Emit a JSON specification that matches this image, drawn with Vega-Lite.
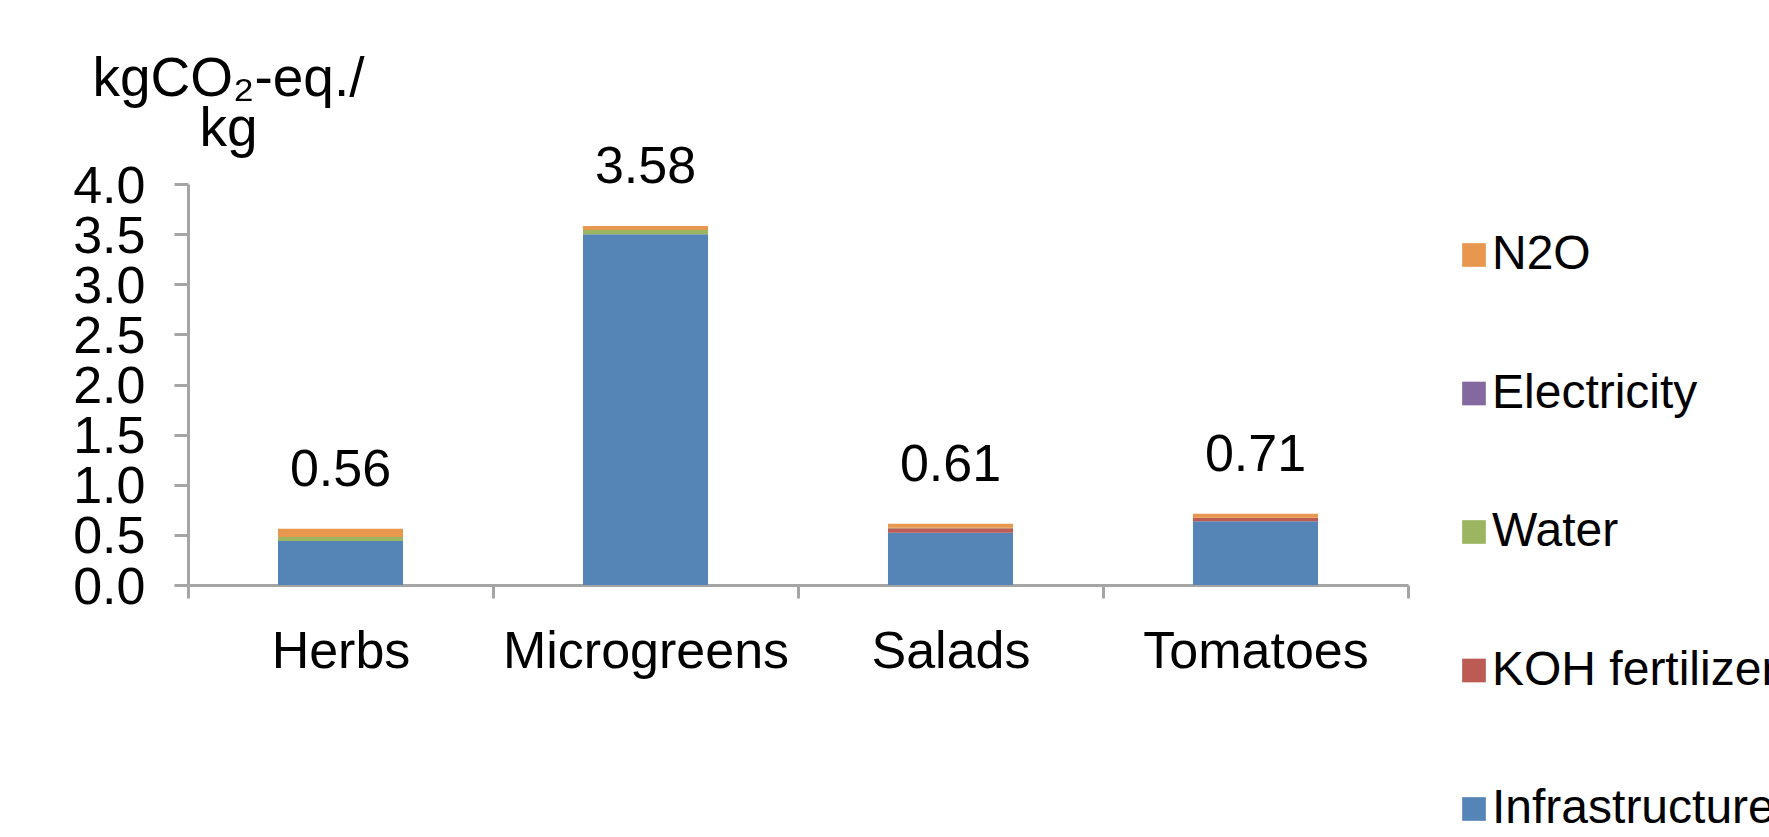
{
  "$schema": "https://vega.github.io/schema/vega-lite/v6.json",
  "autosize": "none",
  "width": 1220,
  "height": 401,
  "padding": {"left": 188, "top": 184, "right": 361, "bottom": 252},
  "background": "white",
  "config": {
    "view": {"stroke": null},
    "font": "Liberation Sans"
  },
  "datasets": {
    "parts": [
      {"crop": "Herbs", "component": "Infrastructure", "value": 0.44},
      {"crop": "Herbs", "component": "KOH fertilizer", "value": 0.0},
      {"crop": "Herbs", "component": "Water", "value": 0.04},
      {"crop": "Herbs", "component": "Electricity", "value": 0.0},
      {"crop": "Herbs", "component": "N2O", "value": 0.08},
      {"crop": "Microgreens", "component": "Infrastructure", "value": 3.50},
      {"crop": "Microgreens", "component": "KOH fertilizer", "value": 0.0},
      {"crop": "Microgreens", "component": "Water", "value": 0.04},
      {"crop": "Microgreens", "component": "Electricity", "value": 0.0},
      {"crop": "Microgreens", "component": "N2O", "value": 0.04},
      {"crop": "Salads", "component": "Infrastructure", "value": 0.52},
      {"crop": "Salads", "component": "KOH fertilizer", "value": 0.045},
      {"crop": "Salads", "component": "Water", "value": 0.005},
      {"crop": "Salads", "component": "Electricity", "value": 0.0},
      {"crop": "Salads", "component": "N2O", "value": 0.04},
      {"crop": "Tomatoes", "component": "Infrastructure", "value": 0.635},
      {"crop": "Tomatoes", "component": "KOH fertilizer", "value": 0.037},
      {"crop": "Tomatoes", "component": "Water", "value": 0.0},
      {"crop": "Tomatoes", "component": "Electricity", "value": 0.0},
      {"crop": "Tomatoes", "component": "N2O", "value": 0.038}
    ],
    "components": [
      {"component": "Infrastructure", "rank": 1},
      {"component": "KOH fertilizer", "rank": 2},
      {"component": "Water", "rank": 3},
      {"component": "Electricity", "rank": 4},
      {"component": "N2O", "rank": 5}
    ],
    "totals": [
      {"crop": "Herbs", "total": 0.56, "label": "0.56"},
      {"crop": "Microgreens", "total": 3.58, "label": "3.58"},
      {"crop": "Salads", "total": 0.61, "label": "0.61"},
      {"crop": "Tomatoes", "total": 0.71, "label": "0.71"}
    ]
  },
  "encoding": {
    "x": {
      "field": "crop",
      "type": "nominal",
      "sort": ["Herbs", "Microgreens", "Salads", "Tomatoes"],
      "scale": {"paddingInner": 0, "paddingOuter": 0},
      "axis": {
        "title": null,
        "labelAngle": 0,
        "labelFontSize": 52,
        "labelColor": "#000000",
        "labelPadding": 28,
        "labelLimit": 1000,
        "tickBand": "extent",
        "tickSize": 13,
        "tickWidth": 3,
        "tickColor": "#a5a5a5",
        "domainColor": "#a5a5a5",
        "domainWidth": 3
      }
    }
  },
  "layer": [
    {
      "data": {"name": "parts"},
      "transform": [
        {"lookup": "component", "from": {"data": {"name": "components"}, "key": "component", "fields": ["rank"]}}
      ],
      "mark": {"type": "bar", "width": {"band": 0.41}},
      "encoding": {
        "y": {
          "field": "value",
          "type": "quantitative",
          "stack": "zero",
          "scale": {"domain": [0, 4], "nice": false},
          "axis": {
            "values": [0, 0.5, 1, 1.5, 2, 2.5, 3, 3.5, 4],
            "format": ".1f",
            "grid": false,
            "labelOverlap": false,
            "labelBound": false,
            "labelFontSize": 52,
            "labelColor": "#000000",
            "labelPadding": 29,
            "labelOffset": 2,
            "tickSize": 14,
            "tickWidth": 3,
            "tickColor": "#a5a5a5",
            "domainColor": "#a5a5a5",
            "domainWidth": 3,
            "title": ["kgCO₂-eq./", "kg"],
            "titleAngle": 0,
            "titleAlign": "center",
            "titleBaseline": "alphabetic",
            "titleFontSize": 55,
            "titleFontWeight": "normal",
            "titleColor": "#000000",
            "titleLineHeight": 50,
            "titleX": 40,
            "titleY": -89
          }
        },
        "order": {"field": "rank", "type": "quantitative", "sort": "ascending"},
        "color": {
          "field": "component",
          "type": "nominal",
          "sort": ["N2O", "Electricity", "Water", "KOH fertilizer", "Infrastructure"],
          "scale": {
            "domain": ["N2O", "Electricity", "Water", "KOH fertilizer", "Infrastructure"],
            "range": ["#e8974e", "#8369a0", "#9cb560", "#bc5a54", "#5585b7"]
          },
          "legend": {
            "title": null,
            "orient": "none",
            "legendX": 1262,
            "legendY": 47,
            "padding": 0,
            "symbolType": "square",
            "symbolSize": 560,
            "symbolStrokeWidth": 0,
            "labelFontSize": 48,
            "labelColor": "#000000",
            "labelOffset": -6,
            "labelLimit": 1000,
            "rowPadding": 90.5
          }
        }
      }
    },
    {
      "data": {"name": "totals"},
      "mark": {"type": "text", "fontSize": 52, "baseline": "alphabetic", "dy": -43, "color": "#000000"},
      "encoding": {
        "y": {"field": "total", "type": "quantitative"},
        "text": {"field": "label", "type": "nominal"}
      }
    }
  ]
}
